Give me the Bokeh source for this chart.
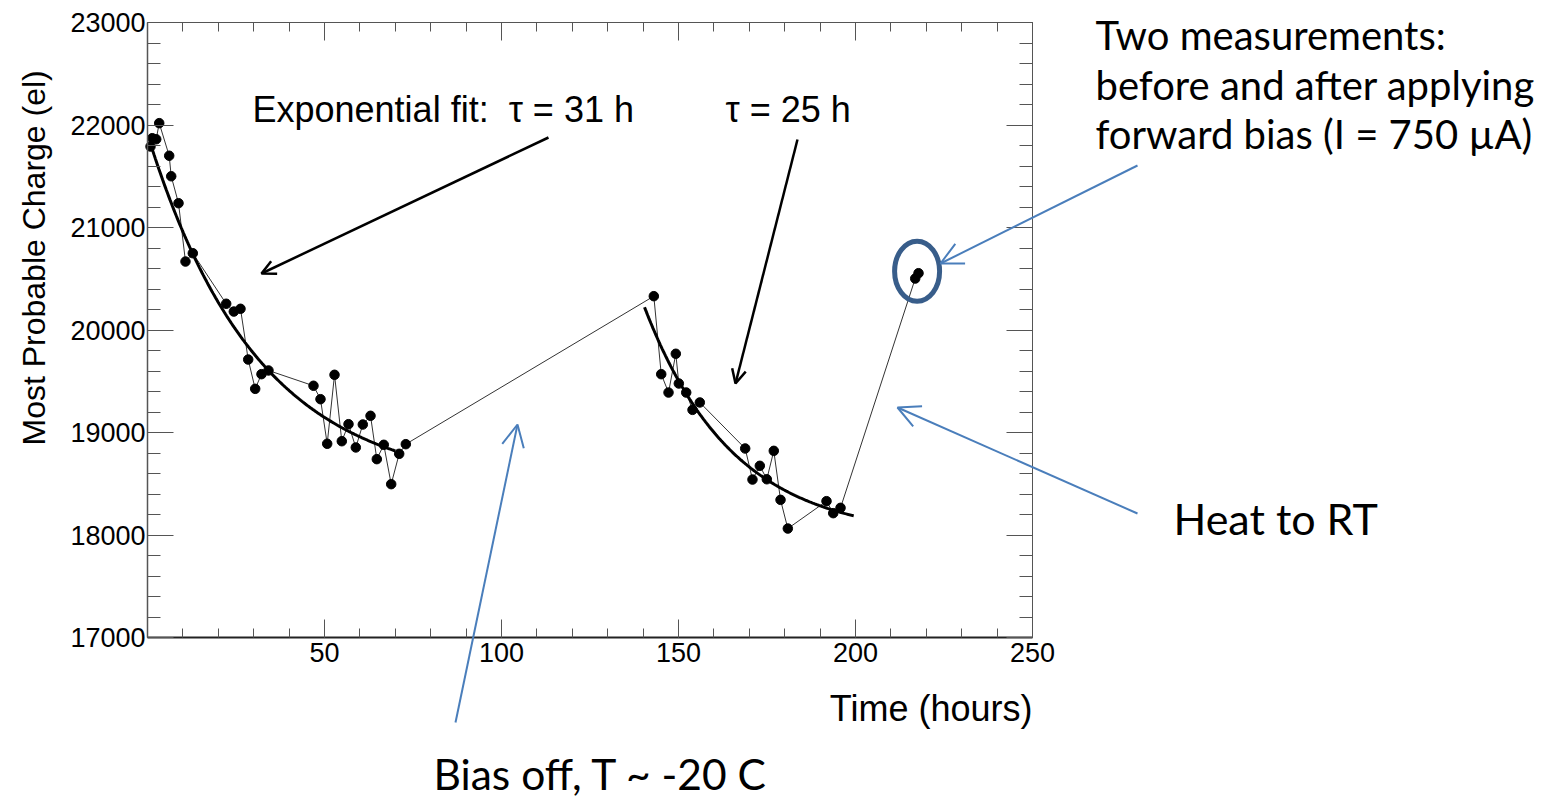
import numpy as np
from bokeh.plotting import figure
from bokeh.models import Range1d, FixedTicker, LinearAxis, Label, Arrow, OpenHead
from bokeh.embed import file_html
from bokeh.resources import INLINE

# ---------------- data ----------------
time_h = [0.85, 1.33, 2.46, 3.31, 6.13, 6.70, 8.76, 10.73, 12.80,
          22.23, 24.38, 26.27, 28.45, 30.42, 32.20, 34.18,
          46.89, 48.87, 50.76, 52.83, 54.89, 56.78, 58.84, 60.82, 63.00,
          64.78, 66.75, 68.84, 71.10, 72.97,
          143.03, 145.12, 147.18, 149.24, 150.09, 152.18, 153.96, 156.02,
          168.84, 170.90, 172.97, 174.95, 176.92, 178.82, 180.88,
          191.81, 193.71, 195.77,
          216.87, 217.80]
charge_el = [21790, 21871, 21861, 22018, 21700, 21500, 21237, 20668, 20749,
             20256, 20180, 20207, 19712, 19426, 19569, 19605,
             19456, 19325, 18890, 19563, 18915, 19081, 18854, 19078, 19163,
             18740, 18880, 18496, 18792, 18886,
             20330, 19569, 19390, 19768, 19478, 19390, 19221, 19293,
             18844, 18541, 18675, 18544, 18821, 18343, 18063,
             18330, 18213, 18265,
             20502, 20554]

# exponential fits (parameters of the fits shown)
fit1_tau, fit1_base, fit1_amp, fit1_t0, fit1_from, fit1_to = 31.0, 18460.0, 3450.0, 0.0, 0.8, 70.0
fit2_tau, fit2_base, fit2_amp, fit2_t0, fit2_from, fit2_to = 25.0, 17976.0, 2283.0, 140.0, 140.4, 199.5

x_lo, x_hi = 0, 250
y_lo, y_hi = 17000, 23000
x_major_ticks = [50, 100, 150, 200, 250]
x_minor_ticks = list(range(0, 251, 10))
y_major_ticks = list(range(17000, 23001, 1000))
y_minor_ticks = list(range(17000, 23001, 200))

# ---------------- layout: the frame spans the whole page ----------------
W, H = 1546, 800
FL, FR, FT, FB = 147, 1032, 22, 637   # pixel box of the data area


def px2x(px):
    return x_lo + (px - FL) / (FR - FL) * (x_hi - x_lo)


def py2y(py):
    return y_hi - (py - FT) / (FB - FT) * (y_hi - y_lo)


p = figure(width=W, height=H, x_range=Range1d(px2x(0), px2x(W)), y_range=Range1d(py2y(H), py2y(0)),
           output_backend="svg", toolbar_location=None, min_border=0)
p.title.visible = False
p.xgrid.visible = False
p.ygrid.visible = False
p.outline_line_color = None
p.background_fill_color = "white"
p.border_fill_color = "white"

FONT = "Liberation Sans"


def style_axis(ax, ticks, minor, tin, loc, bounds, labels=True):
    ax.ticker = FixedTicker(ticks=ticks, minor_ticks=minor)
    ax.fixed_location = loc
    ax.bounds = bounds
    ax.major_tick_in = tin
    ax.major_tick_out = 0
    ax.minor_tick_in = tin // 2
    ax.minor_tick_out = 0
    ax.major_tick_line_color = "#555555"
    ax.minor_tick_line_color = "#555555"
    ax.major_tick_line_width = 1
    ax.minor_tick_line_width = 1
    ax.axis_line_color = "#555555"
    ax.axis_line_width = 1
    if labels:
        ax.major_label_text_font = FONT
        ax.major_label_text_font_size = "27px"
        ax.major_label_text_color = "black"
    else:
        ax.major_label_text_font_size = "1px"
        ax.major_label_text_color = None
        ax.major_label_standoff = 0


xax = p.xaxis[0]
style_axis(xax, x_major_ticks, x_minor_ticks, 18, y_lo, (x_lo, x_hi))
xax.axis_line_color = "#222222"
xax.axis_line_width = 2
xax.major_label_standoff = 5

yax = p.yaxis[0]
style_axis(yax, y_major_ticks, y_minor_ticks, 26, x_lo, (y_lo, y_hi))
yax.axis_line_width = 1.5
yax.major_label_standoff = 2

top = LinearAxis()
style_axis(top, x_major_ticks, x_minor_ticks, 18, y_hi, (x_lo, x_hi), labels=False)
p.add_layout(top, "above")

right = LinearAxis()
style_axis(right, y_major_ticks, y_minor_ticks, 26, x_hi, (y_lo, y_hi), labels=False)
p.add_layout(right, "right")

# ---------------- glyphs ----------------
p.line(time_h, charge_el, line_color="#333333", line_width=1)

t1 = np.linspace(fit1_from, fit1_to, 200)
p.line(t1, fit1_base + fit1_amp * np.exp(-(t1 - fit1_t0) / fit1_tau), line_color="black", line_width=3)
t2 = np.linspace(fit2_from, fit2_to, 200)
p.line(t2, fit2_base + fit2_amp * np.exp(-(t2 - fit2_t0) / fit2_tau), line_color="black", line_width=3)

p.scatter(time_h, charge_el, size=9.5, fill_color="black", line_color="black")

# highlight ellipse around the two last measurements
p.ellipse(x=[217.4], y=[20573], width=45, height=60, width_units="screen", height_units="screen",
          fill_color=None, line_color="#385d8a", line_width=5)

# ---------------- annotations ----------------
CAL = "Lato"
MID = {FONT: 0.35, CAL: 0.39}   # baseline offset of a "middle"-anchored text, in em


def lab(text, x, y, size, font=FONT, align="left", angle=0.0):
    off = MID[font] * size
    if angle == 0.0:
        ax, ay = x, y - off
    else:  # rotated 90 deg counter-clockwise: baseline is the vertical line at x
        ax, ay = x - off, y
    p.add_layout(Label(x=px2x(ax), y=py2y(ay), text=text,
                       text_font=font, text_font_size=f"{size}px", text_color="black",
                       text_align=align, text_baseline="middle", angle=angle))


NB = "\u00a0"
lab("Exponential fit:" + NB + NB + "\u03c4 = 31 h", 252, 122, 36)
lab("\u03c4 = 25 h", 725, 122, 36)
lab("Time (hours)", 1032, 721, 36, align="right")
lab("Most Probable Charge (el)", 45, 445, 32, angle=np.pi / 2)

lab("Two measurements:", 1095, 50, 40, font=CAL)
lab("before and after applying", 1095, 100, 40, font=CAL)
lab("forward bias (I = 750 \u00b5A)", 1095, 149, 40, font=CAL)
lab("Heat to RT", 1173, 535, 43, font=CAL)
lab("Bias off, T ~ -20 C", 433, 790, 42.5, font=CAL)


def arrow(x0, y0, x1, y1, color, width, size):
    p.add_layout(Arrow(x_start=px2x(x0), y_start=py2y(y0), x_end=px2x(x1), y_end=py2y(y1),
                       line_color=color, line_width=width,
                       end=OpenHead(size=size, line_color=color, line_width=width)))


arrow(548, 137, 261, 273, "black", 2.5, 14)
arrow(797, 139, 735, 383, "black", 2.5, 14)
BLUE = "#4a7ebb"
arrow(1137, 165, 940, 263, BLUE, 2, 22)
arrow(455, 722, 517, 424, BLUE, 2, 22)
arrow(1137, 513, 897, 407, BLUE, 2, 22)

open("out.html", "w").write(file_html(p, INLINE))
